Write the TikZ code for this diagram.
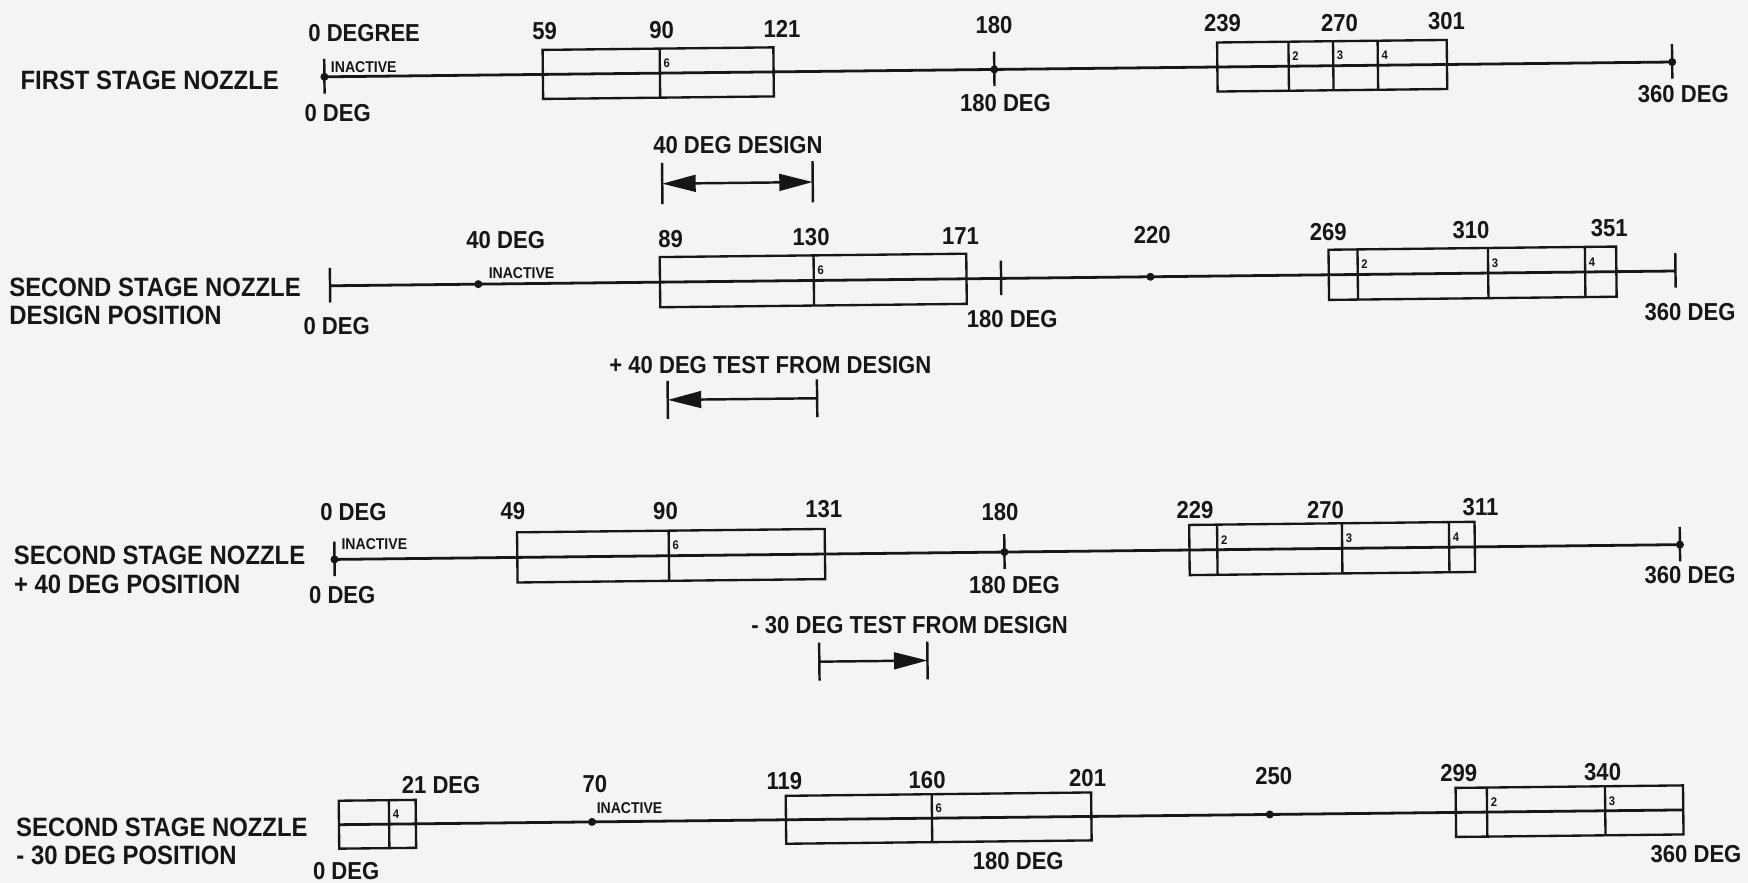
\documentclass[tikz,border=0pt]{standalone}
\usepackage{fontspec}
\setmainfont{Liberation Sans}
\newfontfamily\condfont{Liberation Sans}[FakeStretch=0.9]
\usetikzlibrary{arrows.meta}
\definecolor{paper}{RGB}{244,244,244}
\definecolor{ink}{RGB}{22,22,22}
\newcommand\tickmk[3]{\coordinate (#1u) at (#2,#3-16); \coordinate (#1d) at (#2,#3+15); \draw[tickline] (#1u) -- (#1d);}
\newcommand\dotmk[3]{\node[dotmark] (#1) at (#2,#3) {};}
\newcommand\boxmk[5]{\coordinate (#1a) at (#2,#4-#5); \coordinate (#1b) at (#3,#4+#5); \draw[boxline] (#1a) rectangle (#1b);}
\newcommand\divmk[5]{\coordinate (#1u) at (#2,#3-#4); \coordinate (#1d) at (#2,#3+#4); \draw[boxline] (#1u) -- (#1d); \node[digit] (#1n) at (#2+3,#3-9) {#5};}
\begin{document}
\begin{tikzpicture}[x=0.5pt,y=-0.5pt,
  axis/.style={line width=1.25pt, draw=ink},
  boxline/.style={line width=1.05pt, draw=ink},
  tickline/.style={line width=1.1pt, draw=ink},
  dotmark/.style={circle, fill=ink, inner sep=0pt, minimum size=3.6pt},
  lbl/.style={font=\condfont\bfseries\fontsize{11}{13}\selectfont, inner sep=0pt, text=ink},
  stagename/.style={font=\condfont\bfseries\fontsize{11.9}{14}\selectfont, inner sep=0pt, anchor=west, text=ink},
  tinytext/.style={font=\condfont\bfseries\fontsize{7}{8}\selectfont, inner sep=0pt, anchor=west, text=ink},
  digit/.style={font=\condfont\bfseries\fontsize{5.6}{6}\selectfont, inner sep=0pt, anchor=west, text=ink},
  dimline/.style={line width=1.1pt, draw=ink},
  bighead/.tip={Triangle[length=15pt,width=7.5pt]},
]
\fill[paper] (0,0) rectangle (1568,792);
\useasboundingbox (0,0) rectangle (1568,792);
\begin{scope}[rotate around={0.63:(784,396)}]
% ---------------- Row 1 ----------------
\node[stagename] (n1) at (21.6,63.9) {FIRST STAGE NOZZLE};
\coordinate (r1s) at (294.6,63.5); \coordinate (r1e) at (1503.7,63.5);
\draw[axis] (r1s) -- (r1e);
\tickmk{r1t0}{294.6}{63.5} \tickmk{r1t180}{895.6}{63.5} \tickmk{r1t360}{1503.7}{63.5}
\dotmk{r1d0}{294.6}{63.5} \dotmk{r1d180}{895.6}{63.5} \dotmk{r1d360}{1503.7}{63.5}
\boxmk{r1b1}{490.6}{697.6}{63.5}{22}
\divmk{r1v6}{595.6}{63.5}{22}{6}
\boxmk{r1b2}{1095.7}{1301.7}{63.5}{22}
\divmk{r1v2}{1159.7}{63.5}{22}{2}
\divmk{r1v3}{1199.7}{63.5}{22}{3}
\divmk{r1v4}{1239.7}{63.5}{22}{4}
\node[lbl] (r1l0) at (330.7,25) {0 DEGREE};
\node[lbl] (r1l59) at (492.6,25) {59};
\node[lbl] (r1l90) at (597.6,25) {90};
\node[lbl] (r1l121) at (705.6,25) {121};
\node[lbl] (r1l180) at (895.7,24) {180};
\node[lbl] (r1l239) at (1100.7,24) {239};
\node[lbl] (r1l270) at (1205.7,25) {270};
\node[lbl] (r1l301) at (1301.7,25) {301};
\node[lbl] (r1b0) at (306.2,95.7) {0 DEG};
\node[lbl] (r1b180) at (905.3,93.3) {180 DEG};
\node[lbl] (r1b360) at (1513.4,92) {360 DEG};
\node[tinytext] (r1in) at (300.2,54.9) {INACTIVE};
% ---------------- Arrow 1 ----------------
\node[lbl] (a1t) at (664.9,128.7) {40 DEG DESIGN};
\coordinate (a1l) at (596.6,162.7); \coordinate (a1r) at (731.6,162.7);
\coordinate (a1lu) at (596.6,144); \coordinate (a1ld) at (596.6,181);
\coordinate (a1ru) at (731.6,144); \coordinate (a1rd) at (731.6,181);
\draw[tickline] (a1lu) -- (a1ld); \draw[tickline] (a1ru) -- (a1rd);
\draw[dimline, bighead-bighead] (a1l) -- (a1r);
% ---------------- Row 2 ----------------
\node[stagename] (n2a) at (9.5,248.9) {SECOND STAGE NOZZLE};
\node[stagename] (n2b) at (9.3,274.5) {DESIGN POSITION};
\coordinate (r2s) at (297.6,251); \coordinate (r2e) at (1504.6,251);
\draw[axis] (r2s) -- (r2e);
\tickmk{r2t0}{297.6}{251} \tickmk{r2t180}{899.6}{251} \tickmk{r2t360}{1504.6}{251}
\dotmk{r2d40}{430.6}{251} \dotmk{r2d220}{1033.6}{251}
\boxmk{r2b1}{593.6}{868.6}{251}{22.5}
\divmk{r2v6}{731.6}{251}{22.5}{6}
\boxmk{r2b2}{1193.6}{1451.6}{251}{22.5}
\divmk{r2v2}{1219.6}{251}{22.5}{2}
\divmk{r2v3}{1336.6}{251}{22.5}{3}
\divmk{r2v4}{1423.6}{251}{22.5}{4}
\node[lbl] (r2l40) at (455.6,212) {40 DEG};
\node[lbl] (r2l89) at (603.6,212) {89};
\node[lbl] (r2l130) at (729.6,212) {130};
\node[lbl] (r2l171) at (863.6,212.5) {171};
\node[lbl] (r2l220) at (1035.6,213.5) {220};
\node[lbl] (r2l269) at (1193.6,212.5) {269};
\node[lbl] (r2l310) at (1321.6,212) {310};
\node[lbl] (r2l351) at (1445.6,212) {351};
\node[lbl] (r2b0) at (303.1,287) {0 DEG};
\node[lbl] (r2b180) at (909.2,288) {180 DEG};
\node[lbl] (r2b360) at (1517.3,288) {360 DEG};
\node[tinytext] (r2in) at (439.7,241.2) {INACTIVE};
% ---------------- Arrow 2 ----------------
\node[lbl] (a2t) at (691.8,326) {+ 40 DEG TEST FROM DESIGN};
\coordinate (a2l) at (599.4,356.7); \coordinate (a2r) at (733.4,356.7);
\coordinate (a2lu) at (599.4,339.7); \coordinate (a2ld) at (599.4,373.7);
\coordinate (a2ru) at (733.4,339.7); \coordinate (a2rd) at (733.4,373.7);
\draw[tickline] (a2lu) -- (a2ld); \draw[tickline] (a2ru) -- (a2rd);
\draw[dimline, -bighead] (a2r) -- (a2l);
% ---------------- Row 3 ----------------
\node[stagename] (n3a) at (10.9,490) {SECOND STAGE NOZZLE};
\node[stagename] (n3b) at (10.9,515.6) {+ 40 DEG POSITION};
\coordinate (r3s) at (298.9,496.5); \coordinate (r3e) at (1505.9,496.5);
\draw[axis] (r3s) -- (r3e);
\tickmk{r3t0}{298.9}{496.5} \tickmk{r3t180}{899.9}{496.5} \tickmk{r3t360}{1505.9}{496.5}
\dotmk{r3d0}{298.9}{496.5} \dotmk{r3d180}{899.9}{496.5} \dotmk{r3d360}{1505.9}{496.5}
\boxmk{r3b1}{462.9}{738.9}{496.5}{22.5}
\divmk{r3v6}{598.9}{496.5}{22.5}{6}
\boxmk{r3b2}{1065.9}{1321.9}{496.5}{22.5}
\divmk{r3v2}{1090.9}{496.5}{22.5}{2}
\divmk{r3v3}{1202.9}{496.5}{22.5}{3}
\divmk{r3v4}{1298.9}{496.5}{22.5}{4}
\node[lbl] (r3l0) at (316.3,454) {0 DEG};
\node[lbl] (r3l49) at (459.3,455) {49};
\node[lbl] (r3l90) at (596.3,456) {90};
\node[lbl] (r3l131) at (738.3,456) {131};
\node[lbl] (r3l180) at (896.3,461) {180};
\node[lbl] (r3l229) at (1071.3,461) {229};
\node[lbl] (r3l270) at (1188.3,462) {270};
\node[lbl] (r3l311) at (1327.4,461) {311};
\node[lbl] (r3b0) at (305.5,528.8) {0 DEG};
\node[lbl] (r3b180) at (908.6,526.4) {180 DEG};
\node[lbl] (r3b360) at (1514.7,524) {360 DEG};
\node[tinytext] (r3in) at (305,483) {INACTIVE};
% ---------------- Arrow 3 ----------------
\node[lbl] (a3t) at (814.2,561.4) {- 30 DEG TEST FROM DESIGN};
\coordinate (a3l) at (732.8,593); \coordinate (a3r) at (829.8,593);
\coordinate (a3lu) at (732.8,576); \coordinate (a3ld) at (732.8,610);
\coordinate (a3ru) at (829.8,576); \coordinate (a3rd) at (829.8,610);
\draw[tickline] (a3lu) -- (a3ld); \draw[tickline] (a3ru) -- (a3rd);
\draw[dimline, -bighead] (a3l) -- (a3r);
% ---------------- Row 4 ----------------
\node[stagename] (n4a) at (10.3,734) {SECOND STAGE NOZZLE};
\node[stagename] (n4b) at (10.3,758.7) {- 30 DEG POSITION};
\coordinate (r4s) at (300.3,734.5); \coordinate (r4e) at (1506.3,734.5);
\draw[axis] (r4s) -- (r4e);
\boxmk{r4b0}{300.3}{369.3}{734.5}{21.5}
\divmk{r4v4}{345.3}{734.5}{21.5}{4}
\dotmk{r4d70}{527.3}{734.5} \dotmk{r4d250}{1135.3}{734.5}
\boxmk{r4b1}{701.3}{975.3}{734.5}{21.5}
\divmk{r4v6}{832.3}{734.5}{21.5}{6}
\boxmk{r4b2}{1302.3}{1506.3}{734.5}{22}
\divmk{r4v2}{1330.3}{734.5}{22}{2}
\divmk{r4v3}{1436.3}{734.5}{22}{3}
\node[lbl] (r4l21) at (392.3,699.7) {21 DEG};
\node[lbl] (r4l70) at (530.3,701) {70};
\node[lbl] (r4l119) at (700.3,699.5) {119};
\node[lbl] (r4l160) at (828.3,700.5) {160};
\node[lbl] (r4l201) at (972.3,700) {201};
\node[lbl] (r4l250) at (1139.3,700.5) {250};
\node[lbl] (r4l299) at (1305.3,699) {299};
\node[lbl] (r4l340) at (1434.3,700) {340};
\node[lbl] (r4b0) at (306.3,776.5) {0 DEG};
\node[lbl] (r4b180) at (909.3,773.4) {180 DEG};
\node[lbl] (r4b360) at (1517.3,774.1) {360 DEG};
\node[tinytext] (r4in) at (531.3,722.3) {INACTIVE};
\end{scope}
\end{tikzpicture}
\end{document}
